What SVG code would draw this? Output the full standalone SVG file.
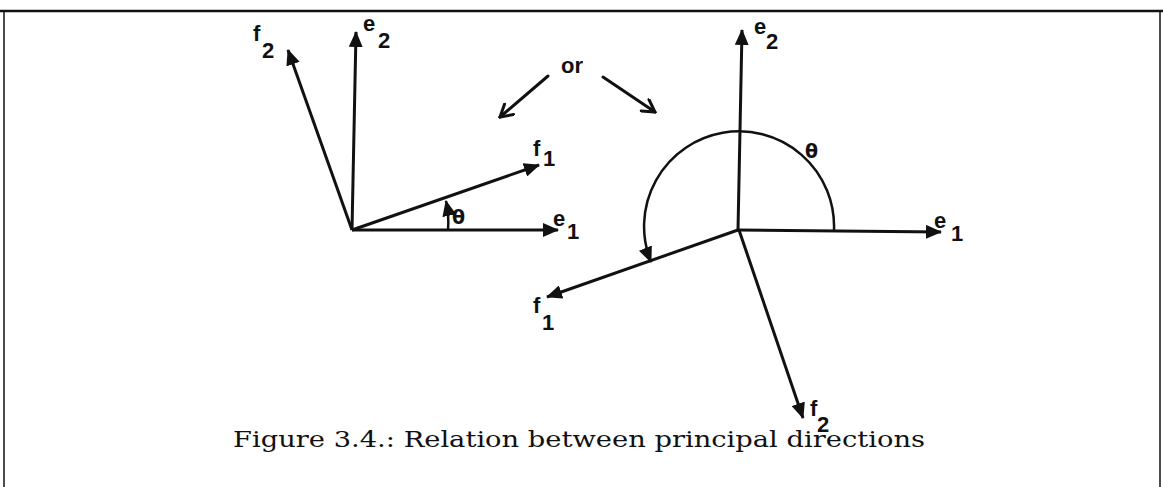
<svg xmlns="http://www.w3.org/2000/svg" width="1163" height="487" viewBox="0 0 1163 487">
<style>
.vec{stroke:#111;stroke-width:3;fill:none;marker-end:url(#tri)}
.arc{stroke:#111;stroke-width:2.5;fill:none;marker-end:url(#tri)}
.or{stroke:#111;stroke-width:3;fill:none;stroke-linecap:round;marker-end:url(#vee)}
.lab{font-family:"Liberation Sans",Arial,sans-serif;font-weight:bold;fill:#111;font-size:22px}
.sub{font-family:"Liberation Sans",Arial,sans-serif;font-weight:bold;fill:#111;font-size:22px}
.th{font-family:"DejaVu Sans","Liberation Sans",sans-serif;font-weight:bold;fill:#111;font-size:19px}
.cap{font-family:"DejaVu Serif","Liberation Serif",serif;fill:#111;font-size:22px}
.frame{stroke:#111;fill:none}
</style>
<defs>
<marker id="tri" markerUnits="userSpaceOnUse" viewBox="0 0 16 14" refX="15" refY="7" markerWidth="16" markerHeight="14" orient="auto">
<path d="M0,0 L16,7 L0,14 Z" fill="#111"/>
</marker>
<marker id="vee" markerUnits="userSpaceOnUse" viewBox="0 0 16 16" refX="14" refY="8" markerWidth="16" markerHeight="16" orient="auto">
<path d="M2,1 L14,8 L2,15" fill="none" stroke="#111" stroke-width="3" stroke-linecap="round"/>
</marker>
</defs>
<g id="frame">
<line class="frame" x1="0" y1="11" x2="1163" y2="11" stroke-width="2.5"/>
<line class="frame" x1="4" y1="11" x2="4" y2="487" stroke-width="1.5"/>
<line class="frame" x1="1160" y1="11" x2="1160" y2="487" stroke-width="1.5"/>
</g>
<g id="connectors">
<line class="vec" x1="352" y1="230" x2="558" y2="230"/>
<line class="vec" x1="352" y1="230" x2="356" y2="32"/>
<line class="vec" x1="352" y1="230" x2="288" y2="50"/>
<line class="vec" x1="352" y1="230" x2="539" y2="165"/>
<path class="arc" d="M448,230 A96,96 0 0 0 446,201"/>
<line class="or" x1="548" y1="76" x2="500" y2="117"/>
<line class="or" x1="603" y1="77" x2="655" y2="112"/>
<line class="vec" x1="738" y1="230" x2="941" y2="232"/>
<line class="vec" x1="738" y1="230" x2="742" y2="30"/>
<line class="vec" x1="738" y1="230" x2="547" y2="297"/>
<line class="vec" x1="739" y1="230" x2="803" y2="418"/>
<path class="arc" d="M834,230 A95,95 0 1 0 651,262"/>
</g>
<g id="left-e1"><text class="lab" x="553" y="226">e</text><text class="sub" x="567" y="239">1</text></g>
<g id="left-f1"><text class="lab" x="533" y="156">f</text><text class="sub" x="543" y="166">1</text></g>
<g id="left-e2"><text class="lab" x="363" y="31">e</text><text class="sub" x="378" y="48">2</text></g>
<g id="left-f2"><text class="lab" x="253" y="41">f</text><text class="sub" x="262" y="58">2</text></g>
<g id="left-theta"><text class="th" x="452" y="224">θ</text></g>
<g id="or"><text class="lab" x="561" y="73">or</text></g>
<g id="right-e2"><text class="lab" x="754" y="34">e</text><text class="sub" x="766" y="49">2</text></g>
<g id="right-e1"><text class="lab" x="934" y="228">e</text><text class="sub" x="951" y="241">1</text></g>
<g id="right-theta"><text class="th" x="805" y="158">θ</text></g>
<g id="right-f1"><text class="lab" x="533" y="313">f</text><text class="sub" x="542" y="330">1</text></g>
<g id="right-f2"><text class="lab" x="810" y="416">f</text><text class="sub" x="817" y="432">2</text></g>
<g id="caption"><text class="cap" x="233" y="447" textLength="692" lengthAdjust="spacingAndGlyphs">Figure 3.4.: Relation between principal directions</text></g>
</svg>
